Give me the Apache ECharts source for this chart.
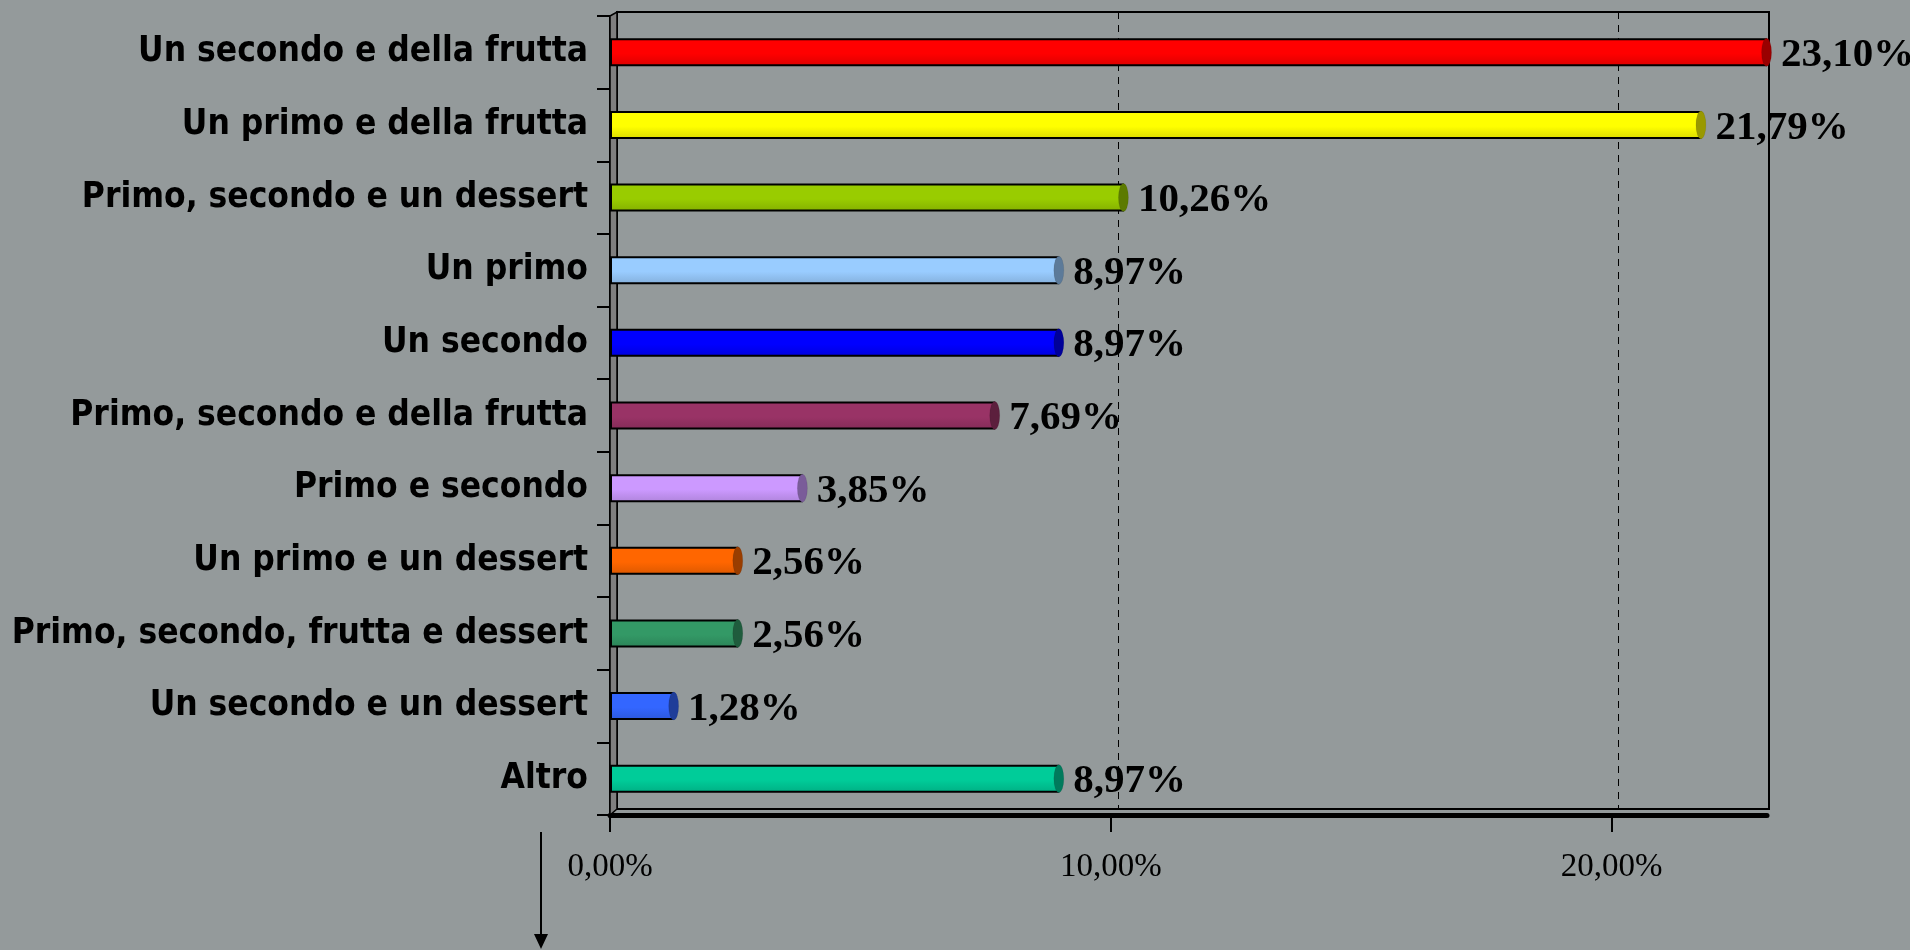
<!DOCTYPE html>
<html>
<head>
<meta charset="utf-8">
<script src="https://cdn.jsdelivr.net/npm/echarts@6/dist/echarts.min.js"></script>
<style>
  html, body { margin: 0; padding: 0; background: #949a9b; }
  #chart { width: 1910px; height: 950px; }
</style>
</head>
<body>
<div id="chart"></div>
<script>
const categories = [
  'Un secondo e della frutta',
  'Un primo e della frutta',
  'Primo, secondo e un dessert',
  'Un primo',
  'Un secondo',
  'Primo, secondo e della frutta',
  'Primo e secondo',
  'Un primo e un dessert',
  'Primo, secondo, frutta e dessert',
  'Un secondo e un dessert',
  'Altro'
];
const values = [23.10, 21.79, 10.26, 8.97, 8.97, 7.69, 3.85, 2.56, 2.56, 1.28, 8.97];
const colors = ['#FF0000', '#FFFF00', '#99CC00', '#99CCFF', '#0000FF', '#993366', '#CC99FF', '#FF6600', '#339966', '#3366FF', '#00CC99'];
const xTicks = [0, 10, 20];

function shade(hex, f) {
  const n = parseInt(hex.slice(1), 16);
  const r = Math.round(((n >> 16) & 255) * f);
  const g = Math.round(((n >> 8) & 255) * f);
  const b = Math.round((n & 255) * f);
  return 'rgb(' + r + ',' + g + ',' + b + ')';
}
function fmt(v) { return v.toFixed(2).replace('.', ',') + '%'; }

const chart = echarts.init(document.getElementById('chart'));

const barData = values.map((v, i) => ({
  value: v,
  itemStyle: {
    color: new echarts.graphic.LinearGradient(0, 0, 0, 1, [
      { offset: 0, color: colors[i] },
      { offset: 0.55, color: colors[i] },
      { offset: 1, color: shade(colors[i], 0.86) }
    ])
  }
}));
const capData = values.map((v, i) => ({
  value: v,
  itemStyle: { color: shade(colors[i], 0.6) }
}));

chart.setOption({
  backgroundColor: '#949a9b',
  animation: false,
  grid: [
    { left: 610, top: 16, width: 1157, height: 799, containLabel: false },
    { left: 617, top: 12, width: 1152, height: 797, show: true, borderColor: '#000', borderWidth: 2, backgroundColor: 'transparent', z: 0 }
  ],
  xAxis: [
    {
      gridIndex: 0, type: 'value', min: 0, max: 23.1,
      axisLine: { show: true, lineStyle: { color: '#000', width: 5 } },
      axisTick: { show: true, length: 17, lineStyle: { color: '#000', width: 2 }, customValues: xTicks },
      axisLabel: {
        customValues: xTicks, margin: 36,
        formatter: v => fmt(v),
        fontFamily: 'Liberation Serif', fontSize: 33, color: '#000'
      },
      splitLine: { show: false }
    },
    {
      gridIndex: 1, type: 'value', min: 0, max: 23.0, interval: 10,
      axisLine: { show: false }, axisTick: { show: false }, axisLabel: { show: false },
      splitLine: { show: true, lineStyle: { color: '#000', width: 1, type: [7, 6] } }
    }
  ],
  yAxis: [
    {
      gridIndex: 0, type: 'category', data: categories, inverse: true,
      axisLine: { show: true, lineStyle: { color: '#000', width: 2 } },
      axisTick: { show: true, length: 13, lineStyle: { color: '#000', width: 2 } },
      axisLabel: {
        margin: 22, fontFamily: 'DejaVu Sans Condensed, DejaVu Sans', fontWeight: 'bold',
        fontSize: 35, color: '#000'
      }
    },
    {
      gridIndex: 1, type: 'category', data: categories, inverse: true, show: false
    }
  ],
  graphic: [
    {
      type: 'polygon', z: 1,
      shape: { points: [[610, 16], [617, 12], [617, 809], [610, 815]] },
      style: { fill: '#7f7f7f', stroke: '#000', lineWidth: 1.5 }
    },
    {
      type: 'line', z: 5,
      shape: { x1: 541, y1: 832, x2: 541, y2: 935 },
      style: { stroke: '#000', lineWidth: 2 }
    },
    {
      type: 'polygon', z: 5,
      shape: { points: [[534, 934], [548, 934], [541, 949]] },
      style: { fill: '#000' }
    }
  ],
  series: [
    {
      type: 'bar', xAxisIndex: 0, yAxisIndex: 0,
      data: barData, barWidth: 28, barGap: '-100%', z: 3,
      itemStyle: { borderColor: '#000', borderWidth: 2 },
      label: {
        show: true, position: 'right', distance: 14, offset: [0, 3],
        formatter: p => fmt(p.value),
        fontFamily: 'Liberation Serif', fontWeight: 'bold', fontSize: 41, color: '#000'
      }
    },
    {
      type: 'pictorialBar', xAxisIndex: 0, yAxisIndex: 0,
      data: capData, symbol: 'circle', symbolSize: [10, 28],
      symbolPosition: 'end', symbolOffset: ['50%', 0], barGap: '-100%', z: 4,
      itemStyle: { borderColor: '#000', borderWidth: 1.5 }
    }
  ]
});
</script>
</body>
</html>
